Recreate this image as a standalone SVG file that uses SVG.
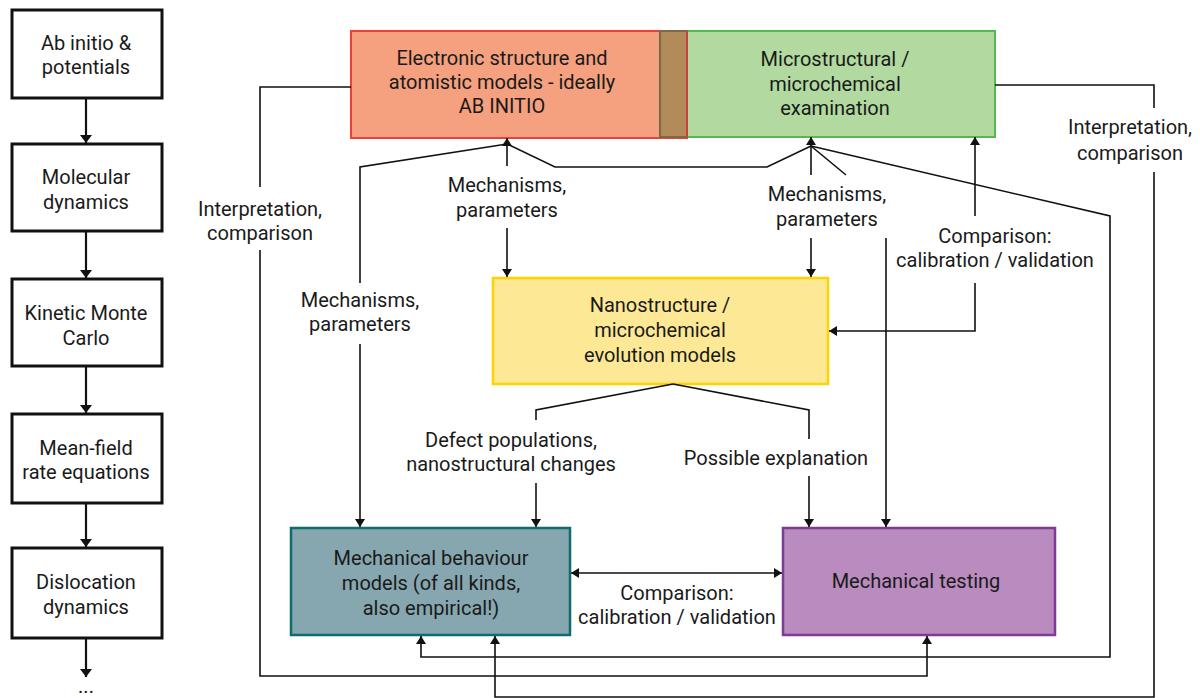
<svg xmlns="http://www.w3.org/2000/svg" width="1200" height="698" viewBox="0 0 1200 698">
<style>
text{font-family:Roboto,"Noto Sans","DejaVu Sans",sans-serif;font-size:20px;fill:#1a1a1a;text-anchor:middle}
.lb{fill:#fff;stroke:#111;stroke-width:3}
.c{fill:none;stroke:#111;stroke-width:1.6}
.cl{fill:none;stroke:#111;stroke-width:2.2}
</style>
<defs>
<marker id="ah" viewBox="0 0 8 10" refX="8" refY="5" markerWidth="8" markerHeight="10" markerUnits="userSpaceOnUse" orient="auto-start-reverse"><path d="M0,0 L8,5 L0,10 z" fill="#111"/></marker>
<marker id="ahl" viewBox="0 0 8 12" refX="8" refY="6" markerWidth="8" markerHeight="12" markerUnits="userSpaceOnUse" orient="auto"><path d="M0,0 L8,6 L0,12 z" fill="#111"/></marker>
</defs>

<g id="left-column">
<g id="n-abinitio"><rect class="lb" x="12" y="10" width="150" height="88"/><text x="86" y="50">Ab initio &amp;</text><text x="86" y="74">potentials</text></g>
<g id="n-md"><rect class="lb" x="12" y="144" width="150" height="87"/><text x="86" y="184">Molecular</text><text x="86" y="209">dynamics</text></g>
<g id="n-kmc"><rect class="lb" x="12" y="279" width="150" height="87"/><text x="86" y="320">Kinetic Monte</text><text x="86" y="345">Carlo</text></g>
<g id="n-mf"><rect class="lb" x="12" y="414" width="150" height="89"/><text x="86" y="455">Mean-field</text><text x="86" y="479">rate equations</text></g>
<g id="n-dd"><rect class="lb" x="12" y="548" width="150" height="90"/><text x="86" y="589">Dislocation</text><text x="86" y="614">dynamics</text></g>
<text x="86" y="693">...</text>
</g>

<g id="n-electronic">
<rect x="351" y="31" width="336" height="107" fill="#F5A07F" stroke="#EE4036" stroke-width="2"/>
<text x="502" y="65">Electronic structure and</text>
<text x="502" y="89">atomistic models - ideally</text>
<text x="502" y="113">AB INITIO</text>
</g>
<g id="n-micro">
<rect x="660" y="31" width="335" height="106" fill="#B1D9A0" stroke="#52BA4F" stroke-width="2"/>
<rect x="660" y="31" width="27" height="106" fill="#B38B5B" stroke="#7A6A48" stroke-width="2"/>
<line x1="687" y1="31" x2="687" y2="137" stroke="#C8413A" stroke-width="2"/>
<text x="835" y="66">Microstructural /</text>
<text x="835" y="91">microchemical</text>
<text x="835" y="115">examination</text>
</g>
<g id="n-nano">
<rect x="493" y="278" width="335" height="106" fill="#FDE995" stroke="#FFD200" stroke-width="2.5"/>
<text x="660" y="312">Nanostructure /</text>
<text x="660" y="337">microchemical</text>
<text x="660" y="362">evolution models</text>
</g>
<g id="n-mechmodels">
<rect x="291" y="528" width="279" height="107" fill="#87A7B0" stroke="#0D6D6E" stroke-width="2.5"/>
<text x="431" y="565">Mechanical behaviour</text>
<text x="431" y="590">models (of all kinds,</text>
<text x="431" y="615">also empirical!)</text>
</g>
<g id="n-mechtest">
<rect x="783" y="528" width="272" height="107" fill="#B98BBF" stroke="#7D3B93" stroke-width="2.5"/>
<text x="916" y="588">Mechanical testing</text>
</g>

<g id="connectors">
<path class="cl" marker-end="url(#ahl)" d="M86,98 L86,143"/>
<path class="cl" marker-end="url(#ahl)" d="M86,231 L86,278"/>
<path class="cl" marker-end="url(#ahl)" d="M86,366 L86,413"/>
<path class="cl" marker-end="url(#ahl)" d="M86,503 L86,547"/>
<path class="cl" marker-end="url(#ahl)" d="M86,638 L86,677"/>

<path class="c" marker-end="url(#ah)" d="M507,166 L507,138"/>
<path class="c" d="M360,283 L360,167 L507,144"/>
<path class="c" marker-end="url(#ah)" d="M360,344 L360,527"/>
<path class="c" d="M507,144 L555,167 L767,167 L811,146"/>
<path class="c" marker-end="url(#ah)" d="M811,175 L811,137"/>
<path class="c" d="M811,146 L846,175"/>
<path class="c" marker-end="url(#ah)" d="M886,238 L886,527"/>
<path class="c" marker-end="url(#ah)" d="M811,146 L1110,216 L1110,657 L421,657 L421,636"/>
<path class="c" marker-end="url(#ah)" d="M507,228 L507,277"/>
<path class="c" marker-end="url(#ah)" d="M811,238 L811,277"/>
<path class="c" d="M351,87 L260,87 L260,187"/>
<path class="c" marker-end="url(#ah)" d="M260,250 L260,676 L927,676 L927,636"/>
<path class="c" d="M995,85 L1154,85 L1154,108"/>
<path class="c" marker-end="url(#ah)" d="M1154,172 L1154,697 L495,697 L495,636"/>
<path class="c" marker-end="url(#ah)" d="M975,216 L975,137"/>
<path class="c" marker-end="url(#ah)" d="M975,283 L975,331 L829,331"/>
<path class="c" d="M673,384 L536,410 L536,420"/>
<path class="c" marker-end="url(#ah)" d="M536,483 L536,527"/>
<path class="c" d="M673,384 L809,410 L809,439"/>
<path class="c" marker-end="url(#ah)" d="M809,476 L809,527"/>
<path class="c" marker-start="url(#ah)" marker-end="url(#ah)" d="M571,573 L782,573"/>

<text x="507" y="192">Mechanisms,</text><text x="507" y="217">parameters</text>
<text x="827" y="201">Mechanisms,</text><text x="827" y="226">parameters</text>
<text x="360" y="307">Mechanisms,</text><text x="360" y="331">parameters</text>
<text x="260" y="216">Interpretation,</text><text x="260" y="240">comparison</text>
<text x="1130" y="134">Interpretation,</text><text x="1130" y="160">comparison</text>
<text x="995" y="243">Comparison:</text><text x="995" y="267">calibration / validation</text>
<text x="511" y="447">Defect populations,</text><text x="511" y="471">nanostructural changes</text>
<text x="776" y="465">Possible explanation</text>
<text x="677" y="600">Comparison:</text><text x="677" y="624">calibration / validation</text>
</g>
</svg>
